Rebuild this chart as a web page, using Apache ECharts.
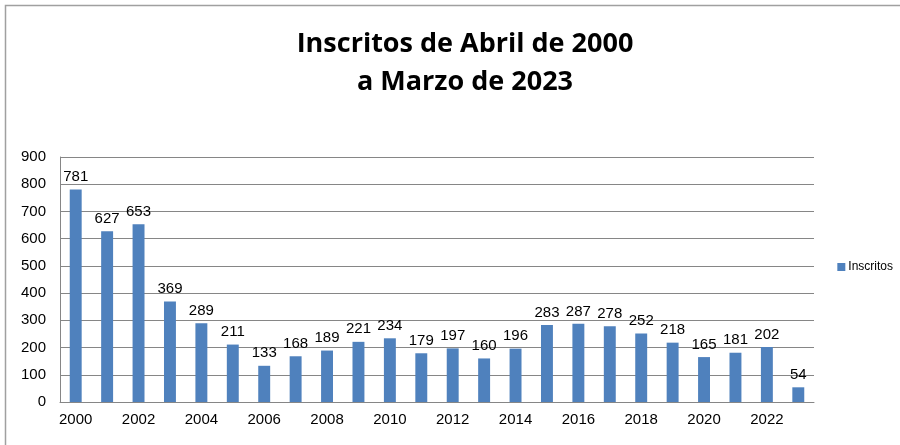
<!DOCTYPE html>
<html>
<head>
<meta charset="utf-8">
<script src="https://cdn.jsdelivr.net/npm/echarts@6/dist/echarts.min.js"></script>
<style>
  html, body { margin: 0; padding: 0; background: #fff; }
  #chart { width: 900px; height: 445px; }
</style>
</head>
<body>
<div id="chart"></div>
<script>
  // años y alumnos inscritos
  var years = ['2000','2001','2002','2003','2004','2005','2006','2007','2008','2009','2010','2011',
               '2012','2013','2014','2015','2016','2017','2018','2019','2020','2021','2022','2023'];
  var inscritos = [781, 627, 653, 369, 289, 211, 133, 168, 189, 221, 234, 179,
                   197, 160, 196, 283, 287, 278, 252, 218, 165, 181, 202, 54];

  var myChart = echarts.init(document.getElementById('chart'));
  var fontName = 'Liberation Sans';

  var option = {
    animation: false,
    textStyle: { fontFamily: fontName },
    graphic: [
      {
        type: 'rect',
        shape: { x: 5.5, y: 5.5, width: 1000, height: 1000 },
        style: { fill: 'none', stroke: '#a0a0a0', lineWidth: 1.5 },
        silent: true
      }
    ],
    title: {
      text: 'Inscritos de Abril de 2000\na Marzo de 2023',
      left: 460,
      top: 20,
      textAlign: 'center',
      textStyle: {
        fontFamily: 'Open Sans',
        fontWeight: 'bold',
        fontSize: 27,
        lineHeight: 38,
        color: '#000'
      }
    },
    legend: {
      right: 2,
      top: 256,
      itemWidth: 8,
      itemHeight: 8,
      itemGap: 4,
      icon: 'rect',
      textStyle: { fontSize: 12, color: '#000', padding: [0, 0, 0, -2] },
      data: ['Inscritos']
    },
    grid: {
      left: 60,
      right: 86,
      top: 157,
      bottom: 43
    },
    xAxis: {
      type: 'category',
      data: years,
      axisLine: { lineStyle: { color: '#868686', width: 1 } },
      axisTick: { interval: 0, length: 5, lineStyle: { color: '#868686' } },
      axisLabel: { interval: 1, color: '#000', fontSize: 15, margin: 10 }
    },
    yAxis: {
      type: 'value',
      min: 0,
      max: 900,
      interval: 100,
      axisLine: { show: true, lineStyle: { color: '#868686' } },
      axisTick: { show: false },
      axisLabel: { color: '#000', fontSize: 15, margin: 14 },
      splitLine: { lineStyle: { color: '#868686', width: 1 } }
    },
    series: [
      {
        name: 'Inscritos',
        type: 'bar',
        barWidth: '38%',
        itemStyle: { color: '#4f81bd' },
        label: {
          show: true,
          position: 'top',
          color: '#000',
          fontSize: 15,
          distance: 5
        },
        data: inscritos
      }
    ]
  };

  myChart.setOption(option);
</script>
</body>
</html>
